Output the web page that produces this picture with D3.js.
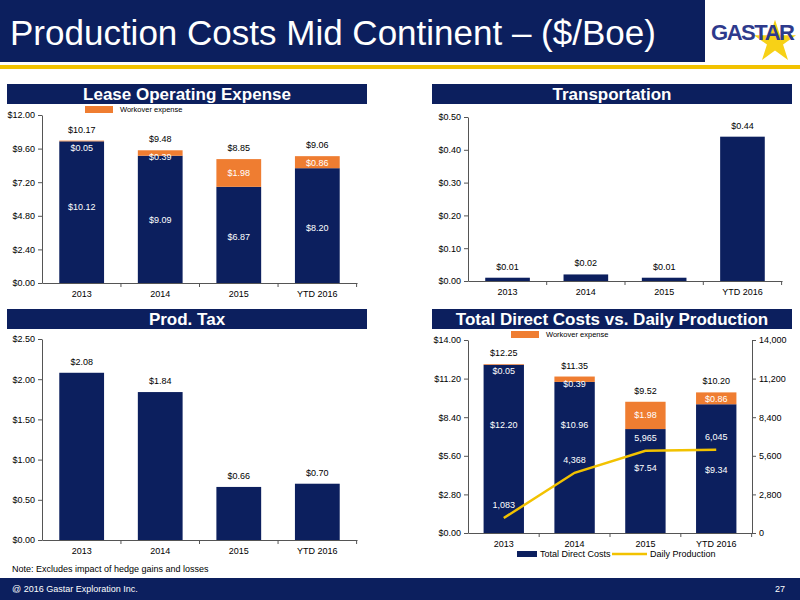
<!DOCTYPE html>
<html><head><meta charset="utf-8">
<script src="https://cdn.jsdelivr.net/npm/d3@7"></script>
<style>
body{margin:0;background:#fff;font-family:"Liberation Sans",Arial,sans-serif}
svg text{font-family:"Liberation Sans",Arial,sans-serif}
</style></head>
<body><svg width="800" height="600"></svg>
<script>
var years = ["2013", "2014", "2015", "YTD 2016"];
var loeBase = [10.12, 9.09, 6.87, 8.20];
var loeWork = [0.05, 0.39, 1.98, 0.86];
var loeTotal = [10.17, 9.48, 8.85, 9.06];
var transport = [0.01, 0.02, 0.01, 0.44];
var prodTax = [2.08, 1.84, 0.66, 0.70];
var tdcBase = [12.20, 10.96, 7.54, 9.34];
var tdcWork = [0.05, 0.39, 1.98, 0.86];
var tdcTotal = [12.25, 11.35, 9.52, 10.20];
var production = [1083, 4368, 5965, 6045];
var loeTicks = [0, 2.4, 4.8, 7.2, 9.6, 12];
var trTicks = [0, 0.1, 0.2, 0.3, 0.4, 0.5];
var taxTicks = [0, 0.5, 1, 1.5, 2, 2.5];
var tdcTicks = [0, 2.8, 5.6, 8.4, 11.2, 14];
var prodTicks = [0, 2800, 5600, 8400, 11200, 14000];

var navy = "#0c1f5e", orange = "#ef7d31", gold = "#f2c200";
var svg = d3.select("svg");

// header + footer
svg.append("rect").attr("x", 0).attr("y", 0).attr("width", 705).attr("height", 62).attr("fill", navy);
svg.append("text").attr("x", 10).attr("y", 45).attr("fill", "#fff").attr("font-size", 35)
  .text("Production Costs Mid Continent – ($/Boe)");
svg.append("rect").attr("x", 0).attr("y", 65).attr("width", 800).attr("height", 4).attr("fill", gold);
svg.append("path").attr("transform", "translate(775,42)")
  .attr("d", d3.symbol(d3.symbolStar, 550)()).attr("fill", "#f7d117");
svg.append("text").attr("x", 711).attr("y", 40).attr("fill", "#2e3a8c").attr("font-size", 22)
  .attr("font-weight", "bold").attr("textLength", 84).text("GASTAR");
svg.append("rect").attr("x", 0).attr("y", 578).attr("width", 800).attr("height", 22).attr("fill", navy);
svg.append("text").attr("x", 12).attr("y", 592).attr("fill", "#fff").attr("font-size", 9)
  .text("@ 2016 Gastar Exploration Inc.");
svg.append("text").attr("x", 785).attr("y", 592).attr("fill", "#fff").attr("font-size", 9)
  .attr("text-anchor", "end").text("27");
svg.append("text").attr("x", 12).attr("y", 572).attr("font-size", 9).text("Note: Excludes impact of hedge gains and losses");

function panelTitle(x, y, w, t) {
  svg.append("rect").attr("x", x).attr("y", y).attr("width", w).attr("height", 20).attr("fill", navy);
  svg.append("text").attr("x", x + w / 2).attr("y", y + 16).attr("fill", "#fff").attr("font-size", 17)
    .attr("font-weight", "bold").attr("text-anchor", "middle").text(t);
}
panelTitle(7, 84, 360, "Lease Operating Expense");
panelTitle(432, 84, 360, "Transportation");
panelTitle(7, 309, 360, "Prod. Tax");
panelTitle(432, 309, 360, "Total Direct Costs vs. Daily Production");

function chart(o) {
  var x = d3.scaleBand().domain(years).range([o.x0, o.x1]).paddingInner(0.43).paddingOuter(0.22);
  var y = d3.scaleLinear().domain([0, o.max]).range([o.y0, o.y1]);
  var g = svg.append("g");
  g.append("g").attr("transform", `translate(0,${o.y0})`)
    .call(d3.axisBottom(x).tickSize(0).tickPadding(8).tickSizeOuter(0))
    .call(a => a.selectAll("text").attr("font-size", 9));
  // x tick marks between bands
  years.forEach((d, i) => {
    g.append("line").attr("x1", x(d) + x.bandwidth() / 2 + x.step() / 2).attr("x2", x(d) + x.bandwidth() / 2 + x.step() / 2)
      .attr("y1", o.y0).attr("y2", o.y0 + 4).attr("stroke", "#555");
  });
  g.append("g").attr("transform", `translate(${o.x0},0)`)
    .call(d3.axisLeft(y).tickValues(o.ticks).tickFormat(d => "$" + d3.format(".2f")(d)).tickSize(4).tickSizeOuter(0))
    .call(a => a.selectAll("text").attr("font-size", 9));
  g.selectAll(".domain,.tick line").attr("stroke", "#555");
  var base = o.base;
  g.selectAll(".b").data(years).enter().append("rect")
    .attr("x", d => x(d)).attr("width", x.bandwidth())
    .attr("y", (d, i) => y(o.total ? o.total[i] - (o.work[i]) : base[i]))
    .attr("height", (d, i) => o.y0 - y(o.total ? o.total[i] - o.work[i] : base[i]))
    .attr("fill", navy);
  if (o.work) {
    g.selectAll(".w").data(years).enter().append("rect")
      .attr("x", d => x(d)).attr("width", x.bandwidth())
      .attr("y", (d, i) => y(o.total[i])).attr("height", (d, i) => y(o.total[i] - o.work[i]) - y(o.total[i]))
      .attr("fill", orange);
    years.forEach((d, i) => {
      var cx = x(d) + x.bandwidth() / 2;
      g.append("text").attr("x", cx).attr("y", y(o.total[i]) - 8).attr("text-anchor", "middle")
        .attr("font-size", 9).text("$" + o.total[i].toFixed(2));
      g.append("text").attr("x", cx).attr("y", o.work[i] > 1 ? y(o.total[i] - o.work[i] / 2) + 3 : y(o.total[i]) + 10)
        .attr("text-anchor", "middle")
        .attr("font-size", 9).attr("fill", "#fff").text("$" + o.work[i].toFixed(2));
      g.append("text").attr("x", cx).attr("y", y((o.total[i] - o.work[i]) / 2) + o.baseOff[i]).attr("text-anchor", "middle")
        .attr("font-size", 9).attr("fill", "#fff").text("$" + base[i].toFixed(2));
    });
    g.append("rect").attr("x", o.x0 + 43).attr("y", o.y1 - 9).attr("width", 28).attr("height", 7).attr("fill", orange);
    g.append("text").attr("x", o.x0 + 78).attr("y", o.y1 - 3).attr("font-size", 7.5).text("Workover expense");
  } else {
    years.forEach((d, i) => {
      g.append("text").attr("x", x(d) + x.bandwidth() / 2).attr("y", y(base[i]) - 8).attr("text-anchor", "middle")
        .attr("font-size", 9).text("$" + base[i].toFixed(2));
    });
  }
  return {x: x, y: y, g: g};
}

chart({x0: 42, x1: 357, y0: 283, y1: 115, max: 12, ticks: loeTicks, base: loeBase, work: loeWork, total: loeTotal, baseOff: [-2, 4, 5, 5]});
chart({x0: 468, x1: 782, y0: 281, y1: 117, max: 0.5, ticks: trTicks, base: transport});
chart({x0: 42, x1: 357, y0: 540, y1: 339, max: 2.5, ticks: taxTicks, base: prodTax});
var c4 = chart({x0: 468, x1: 752, y0: 533, y1: 340, max: 14, ticks: tdcTicks, base: tdcBase, work: tdcWork, total: tdcTotal, baseOff: [-21, -29, -10, 4]});
var y2 = d3.scaleLinear().domain([0, 14000]).range([533, 340]);
c4.g.append("g").attr("transform", "translate(752,0)")
  .call(d3.axisRight(y2).tickValues(prodTicks).tickFormat(d3.format(",")).tickSize(4).tickSizeOuter(0))
  .call(a => a.selectAll("text").attr("font-size", 9))
  .call(a => a.selectAll(".domain,.tick line").attr("stroke", "#555"));
var cx = d => c4.x(d) + c4.x.bandwidth() / 2;
c4.g.append("path").datum(production)
  .attr("d", d3.line().x((d, i) => cx(years[i])).y(d => y2(d)))
  .attr("fill", "none").attr("stroke", gold).attr("stroke-width", 2.5);
c4.g.selectAll(".pl").data(production).enter().append("text")
  .attr("x", (d, i) => cx(years[i])).attr("y", d => y2(d) - 10).attr("text-anchor", "middle")
  .attr("font-size", 9).attr("fill", "#fff").text(d3.format(","));
c4.g.append("rect").attr("x", 517).attr("y", 551).attr("width", 20).attr("height", 6).attr("fill", navy);
c4.g.append("text").attr("x", 540).attr("y", 557).attr("font-size", 9).text("Total Direct Costs");
c4.g.append("line").attr("x1", 612).attr("x2", 647).attr("y1", 554).attr("y2", 554).attr("stroke", gold).attr("stroke-width", 2.5);
c4.g.append("text").attr("x", 650).attr("y", 557).attr("font-size", 9).text("Daily Production");
</script></body></html>
